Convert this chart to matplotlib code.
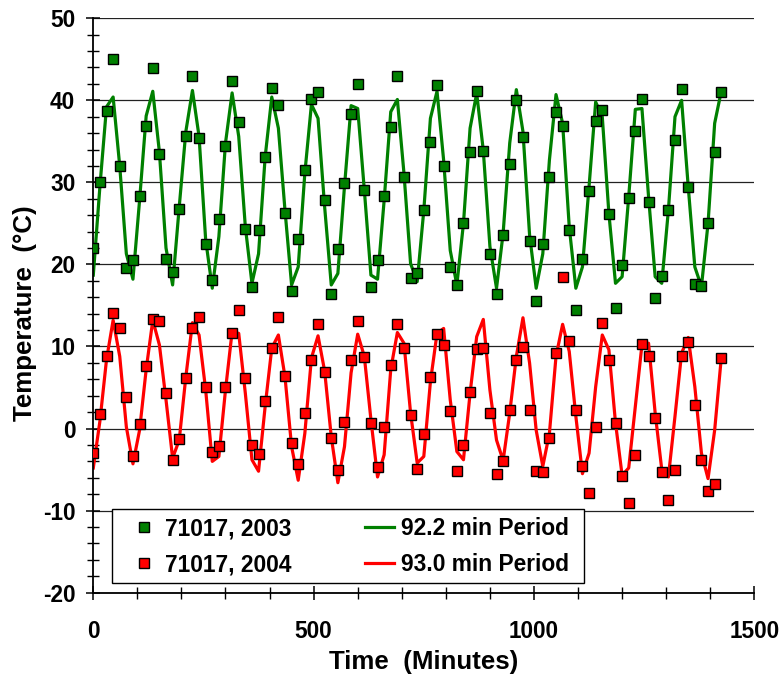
import matplotlib
matplotlib.use("Agg")
import matplotlib.pyplot as plt
from matplotlib.lines import Line2D
from matplotlib.patches import Rectangle
from matplotlib.ticker import MultipleLocator

plt.rcParams['font.family'] = ['Liberation Sans', 'DejaVu Sans']
plt.rcParams['font.weight'] = 'bold'
plt.rcParams['axes.unicode_minus'] = False

time_min = [0, 15, 30, 45, 60, 75, 90, 105, 120, 135, 150, 165, 180, 195, 210, 225,
            240, 255, 270, 285, 300, 315, 330, 345, 360, 375, 390, 405, 420, 435, 450, 465,
            480, 495, 510, 525, 540, 555, 570, 585, 600, 615, 630, 645, 660, 675, 690, 705,
            720, 735, 750, 765, 780, 795, 810, 825, 840, 855, 870, 885, 900, 915, 930, 945,
            960, 975, 990, 1005, 1020, 1035, 1050, 1065, 1080, 1095, 1110, 1125, 1140, 1155, 1170, 1185,
            1200, 1215, 1230, 1245, 1260, 1275, 1290, 1305, 1320, 1335, 1350, 1365, 1380, 1395, 1410, 1425]

temp_2003 = [22.0, 30.0, 38.7, 45.0, 32.0, 19.6, 20.6, 28.4, 36.9, 43.9,
             33.5, 20.7, 19.1, 26.8, 35.6, 43.0, 35.4, 22.5, 18.1, 25.5,
             34.4, 42.4, 37.3, 24.3, 17.2, 24.2, 33.1, 41.5, 39.4, 26.3,
             16.8, 23.1, 31.5, 40.1, 41.0, 27.9, 16.4, 21.9, 29.9, 38.3,
             42.0, 29.1, 17.2, 20.5, 28.3, 36.7, 43.0, 30.6, 18.4, 18.9,
             26.6, 34.9, 41.9, 32.0, 19.7, 17.5, 25.0, 33.7, 41.1, 33.8,
             21.3, 16.4, 23.6, 32.2, 40.0, 35.5, 22.9, 15.5, 22.5, 30.6,
             38.6, 36.9, 24.2, 14.4, 20.7, 29.0, 37.5, 38.8, 26.1, 14.7,
             19.9, 28.1, 36.3, 40.1, 27.6, 15.9, 18.6, 26.6, 35.2, 41.4,
             29.4, 17.6, 17.4, 25.0, 33.7, 41.0]

temp_2004 = [-3.0, 1.8, 8.8, 14.1, 12.3, 3.9, -3.4, 0.5, 7.6, 13.3,
             13.1, 4.3, -3.8, -1.3, 6.1, 12.2, 13.6, 5.1, -2.8, -2.1,
             5.1, 11.6, 14.5, 6.2, -2.0, -3.1, 3.3, 9.8, 13.6, 6.4,
             -1.7, -4.3, 1.9, 8.3, 12.7, 6.9, -1.1, -5.0, 0.8, 8.4,
             13.1, 8.7, 0.7, -4.7, 0.2, 7.7, 12.7, 9.8, 1.7, -4.9,
             -0.7, 6.3, 11.5, 10.2, 2.1, -5.2, -2.0, 4.5, 9.7, 9.8,
             1.9, -5.5, -3.9, 2.3, 8.3, 9.9, 2.2, -5.2, -5.3, -1.1,
             9.2, 18.5, 10.7, 2.2, -4.6, -7.9, 0.2, 12.9, 8.4, 0.7,
             -5.8, -9.1, -3.2, 10.3, 8.9, 1.3, -5.3, -8.7, -5.1, 8.9,
             10.5, 2.9, -3.8, -7.6, -6.8, 8.6]

fit_922 = [18.7, 29.5, 39.2, 40.4, 32.0, 21.3, 18.2, 27.8, 38.1, 41.1,
           33.7, 22.0, 17.5, 27.0, 36.2, 41.2, 35.6, 23.0, 17.1, 23.4,
           34.8, 40.9, 35.6, 24.6, 17.7, 21.3, 33.1, 40.4, 36.6, 26.6,
           17.5, 19.7, 31.1, 39.5, 37.8, 27.0, 17.5, 18.9, 29.5, 39.35,
           39.0, 29.1, 18.7, 18.2, 27.8, 38.6, 40.1, 31.1, 20.1, 17.9,
           26.6, 37.8, 41.1, 32.7, 21.7, 17.5, 25.0, 36.6, 40.85, 33.9,
           22.2, 17.1, 23.8, 34.8, 41.3, 36.2, 23.6, 17.1, 21.3, 32.7,
           40.7, 37.2, 24.6, 17.1, 19.7, 29.5, 39.8, 38.0, 26.2, 17.7,
           18.5, 28.25, 38.9, 39.0, 28.25, 18.5, 17.7, 26.6, 38.0, 40.0,
           29.5, 19.7, 17.3, 25.0, 37.2, 41.1]

fit_930 = [-4.8, 0.9, 8.4, 13.2, 8.8, 0.2, -4.3, -0.2, 7.2, 13.2,
           10.2, 3.5, -3.6, -1.4, 6.3, 12.9, 11.4, 4.7, -4.0, -3.4,
           4.7, 11.8, 11.6, 4.3, -3.8, -5.2, 2.7, 9.8, 11.4, 6.3,
           -2.2, -6.3, -0.6, 8.6, 11.3, 7.0, -1.0, -6.6, -2.2, 6.8,
           11.5, 8.8, 1.1, -5.9, -3.2, 7.2, 11.7, 10.4, 1.9, -4.2,
           -3.4, 5.7, 11.6, 12.2, 3.5, -2.8, -3.8, 4.3, 11.2, 13.3,
           4.7, -1.4, -3.9, 1.9, 8.8, 13.5, 8.0, -0.2, -4.6, -0.6,
           8.8, 12.7, 9.4, 1.5, -5.5, -3.0, 5.1, 11.4, 9.6, 0.7,
           -5.7, -4.8, 2.7, 10.2, 10.4, 1.9, -5.0, -5.9, 1.5, 9.2,
           11.1, 5.1, -3.0, -6.1, -0.2, 8.6]

labels_pts = ["71017, 2003", "71017, 2004"]
labels_fit = ["92.2 min Period", "93.0 min Period"]
GREEN = '#008000'
RED = '#ff0000'

fig = plt.figure(figsize=(7.82, 6.81), dpi=100)
ax = fig.add_axes([0.1193, 0.1297, 0.8453, 0.8435])

ax.plot(time_min, fit_922, color=GREEN, lw=2.3, zorder=2)
ax.plot(time_min, fit_930, color=RED, lw=2.3, zorder=2)
ax.plot(time_min, temp_2003, ls='none', marker='s', ms=6.5, mfc=GREEN, mec='black', mew=1.0, zorder=3)
ax.plot(time_min, temp_2004, ls='none', marker='s', ms=6.5, mfc=RED, mec='black', mew=1.0, zorder=3)

ax.set_xlim(0, 1500)
ax.set_ylim(-20, 50)
ax.set_xticks([0, 500, 1000, 1500])
ax.xaxis.set_minor_locator(MultipleLocator(100))
ax.yaxis.set_major_locator(MultipleLocator(10))
ax.yaxis.set_minor_locator(MultipleLocator(2))
ax.yaxis.grid(True, which='major', color='#222222', lw=0.9, zorder=1)
ax.set_axisbelow(True)

for s in ['top', 'right']:
    ax.spines[s].set_visible(False)
for s in ['left', 'bottom']:
    ax.spines[s].set_linewidth(1.3)
    ax.spines[s].set_color('black')

ax.tick_params(which='major', direction='inout', length=10, width=1.1, labelsize=16.3)
ax.tick_params(which='minor', direction='inout', length=8.3, width=1.0)
ax.tick_params(axis='x', which='major', pad=15)
ax.tick_params(axis='y', which='major', pad=8)

ax.set_xlabel("Time  (Minutes)", fontsize=18.6, fontweight='bold', va='center')
ax.xaxis.set_label_coords(0.5, -0.121)
ax.set_ylabel("Temperature  (°C)", fontsize=18.6, fontweight='bold', va='center')
ax.yaxis.set_label_coords(-0.104, 0.487)

# legend frame
ax.add_patch(Rectangle((0.0287, 0.0174), 0.7137, 0.1283, transform=ax.transAxes,
                       facecolor='white', edgecolor='black', lw=1.0, zorder=4))

handles = [
    Line2D([], [], ls='none', marker='s', ms=6.5, mfc=GREEN, mec='black', mew=1.0),
    Line2D([], [], ls='none', marker='s', ms=6.5, mfc=RED, mec='black', mew=1.0),
    Line2D([], [], color=GREEN, lw=2.3),
    Line2D([], [], color=RED, lw=2.3),
]
leg = ax.legend(handles, labels_pts + labels_fit, ncol=2, loc='center',
                bbox_to_anchor=(0.3874, 0.0796), borderaxespad=0.0,
                fontsize=16.4, frameon=False, handlelength=1.27, handletextpad=0.31,
                columnspacing=3.22, labelspacing=0.57, borderpad=0.0, numpoints=1)
leg.set_zorder(5)

fig.savefig("out.png", dpi=100)
